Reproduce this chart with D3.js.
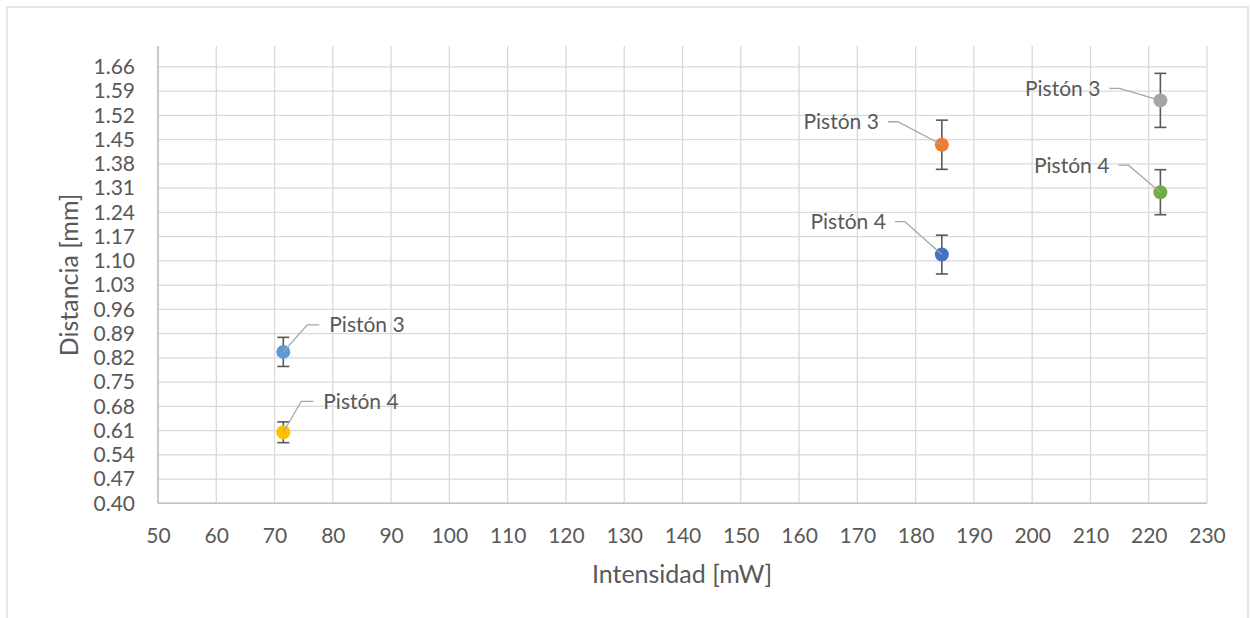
<!DOCTYPE html>
<html><head><meta charset="utf-8">
<script src="https://cdn.jsdelivr.net/npm/d3@7"></script>
<style>body{margin:0;background:#fff}svg{display:block}text{font-family:Lato,"Open Sans",sans-serif;fill:#595959}</style>
</head><body>
<script>
const xTicks = [50,60,70,80,90,100,110,120,130,140,150,160,170,180,190,200,210,220,230];
const yTicks = [0.40,0.47,0.54,0.61,0.68,0.75,0.82,0.89,0.96,1.03,1.10,1.17,1.24,1.31,1.38,1.45,1.52,1.59,1.66];
const seriesNames = ["Pistón 3","Pistón 4","Pistón 3","Pistón 4","Pistón 3","Pistón 4"];
const xValues = [71.5,71.5,184.5,184.5,222,222];
const yValues = [0.837,0.605,1.435,1.118,1.563,1.298];
const yErrors = [0.042,0.030,0.071,0.056,0.078,0.065];
const colors = ["#5B9BD5","#FFC000","#ED7D31","#4472C4","#A5A5A5","#70AD47"];
// label leader offsets (px) relative to point
const labelSide = ["right","right","left","left","left","left"];
const labelDx = [24,18,-44,-37,-41,-32];
const labelDy = [-27,-31,-23,-33,-12,-27];

const W=1250,H=618;
const svg=d3.select("body").append("svg").attr("width",W).attr("height",H);
svg.append("rect").attr("x",7).attr("y",7).attr("width",1241).attr("height",625).attr("fill","#fff").attr("stroke","#D9D9D9").attr("stroke-width",1.3);

const x=d3.scaleLinear().domain([50,230]).range([158,1207]);
const y=d3.scaleLinear().domain([0.40,1.72]).range([503.3,46]);

const g=svg.append("g");
g.selectAll(".vg").data(xTicks).join("line").attr("x1",d=>x(d)).attr("x2",d=>x(d)).attr("y1",y(1.72)).attr("y2",y(0.40)).attr("stroke","#D9D9D9").attr("stroke-width",1.3);
g.selectAll(".hg").data(yTicks).join("line").attr("x1",x(50)).attr("x2",x(230)).attr("y1",d=>y(d)).attr("y2",d=>y(d)).attr("stroke","#D9D9D9").attr("stroke-width",1.3);
g.append("line").attr("x1",x(50)).attr("x2",x(230)).attr("y1",y(0.40)).attr("y2",y(0.40)).attr("stroke","#BFBFBF").attr("stroke-width",1.5);
g.append("line").attr("x1",x(50)).attr("x2",x(50)).attr("y1",y(1.72)).attr("y2",y(0.40)).attr("stroke","#BFBFBF").attr("stroke-width",1.5);

const xAxis=d3.axisBottom(x).tickValues(xTicks).tickSize(0).tickFormat(d3.format("d"));
const xa=svg.append("g").attr("transform",`translate(0,${y(0.40)})`).call(xAxis);
xa.select(".domain").remove();
xa.selectAll("text").style("font-size","21px").attr("fill","#595959").attr("dy","0.35em").attr("y",32);
const yAxis=d3.axisLeft(y).tickValues(yTicks).tickSize(0).tickPadding(23).tickFormat(d3.format(".2f"));
const ya=svg.append("g").attr("transform",`translate(${x(50)},0)`).call(yAxis);
ya.select(".domain").remove();
ya.selectAll("text").style("font-size","21px").attr("fill","#595959");

svg.append("text").attr("x",682).attr("y",583).attr("text-anchor","middle").style("font-size","25px").text("Intensidad [mW]");
svg.append("text").attr("transform","translate(78,275) rotate(-90)").attr("text-anchor","middle").style("font-size","25px").text("Distancia [mm]");

const idx=d3.range(xValues.length);
const eb=svg.append("g").attr("stroke","#595959").attr("stroke-width",1.6);
idx.forEach(i=>{
  const cx=x(xValues[i]), t=y(yValues[i]+yErrors[i]), b=y(yValues[i]-yErrors[i]);
  eb.append("line").attr("x1",cx).attr("x2",cx).attr("y1",t).attr("y2",b);
  eb.append("line").attr("x1",cx-6).attr("x2",cx+6).attr("y1",t).attr("y2",t);
  eb.append("line").attr("x1",cx-6).attr("x2",cx+6).attr("y1",b).attr("y2",b);
});
svg.selectAll(".pt").data(idx).join("circle").attr("cx",i=>x(xValues[i])).attr("cy",i=>y(yValues[i])).attr("r",7).attr("fill",i=>colors[i]);
idx.forEach(i=>{
  const cx=x(xValues[i]), cy=y(yValues[i]);
  const ex=cx+labelDx[i], ey=cy+labelDy[i];
  const right=labelSide[i]==="right";
  const hx=ex+(right?12:-10);
  svg.append("polyline").attr("points",`${cx},${cy} ${ex},${ey} ${hx},${ey}`).attr("fill","none").attr("stroke","#A6A6A6").attr("stroke-width",1.3);
  svg.append("text").attr("x",hx+(right?10:-9)).attr("y",ey).attr("dy","0.35em").attr("text-anchor",right?"start":"end").style("font-size","21px").text(seriesNames[i]);
});
</script>
</body></html>
